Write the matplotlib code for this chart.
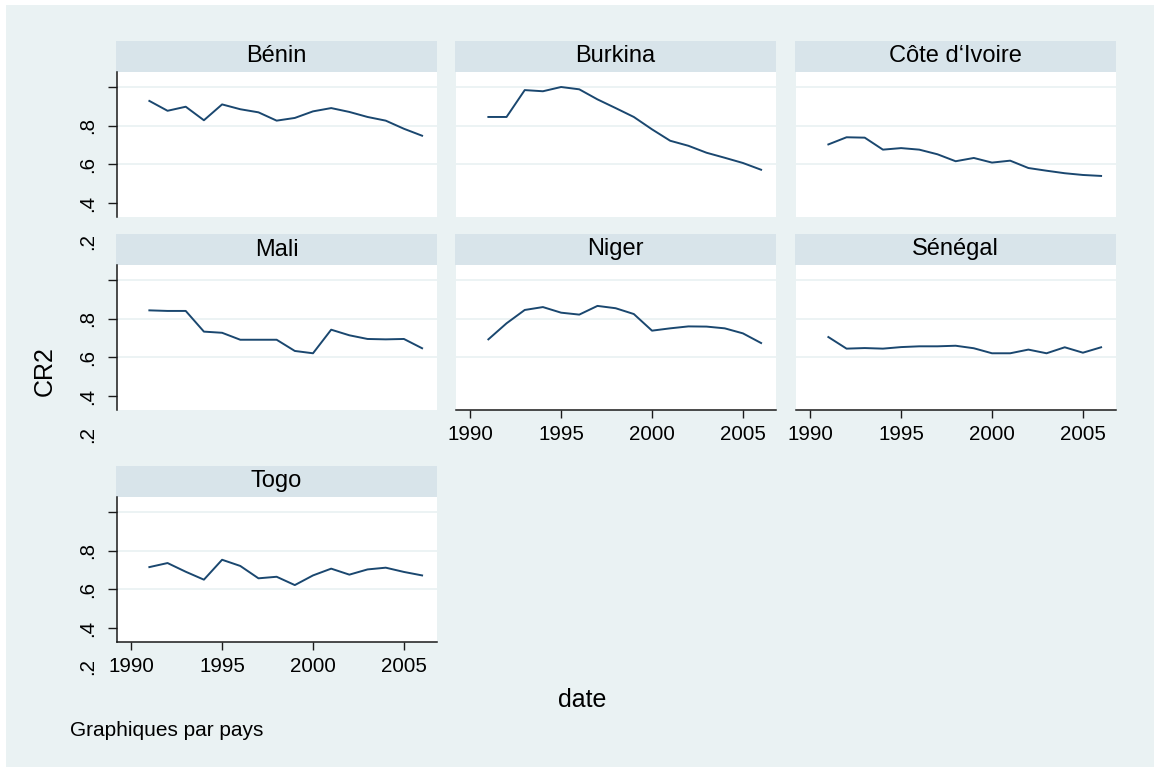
import matplotlib
matplotlib.use("Agg")
import matplotlib.pyplot as plt
from matplotlib.patches import Rectangle

plt.rcParams['font.family'] = ['Liberation Sans', 'DejaVu Sans']

# ---- data -------------------------------------------------------------
years = [1991, 1992, 1993, 1994, 1995, 1996, 1997, 1998,
         1999, 2000, 2001, 2002, 2003, 2004, 2005, 2006]

countries = ['Bénin', 'Burkina', 'Côte d‘Ivoire', 'Mali', 'Niger', 'Sénégal', 'Togo']

benin = [0.928, 0.877, 0.898, 0.828, 0.910, 0.885, 0.869, 0.826,
         0.840, 0.874, 0.891, 0.871, 0.845, 0.826, 0.784, 0.748]
burkina = [0.845, 0.845, 0.984, 0.978, 1.000, 0.988, 0.936, 0.891,
           0.845, 0.781, 0.722, 0.696, 0.660, 0.634, 0.607, 0.572]
cote_ivoire = [0.703, 0.740, 0.738, 0.676, 0.684, 0.676, 0.652, 0.616,
               0.633, 0.609, 0.619, 0.581, 0.567, 0.554, 0.545, 0.540]
mali = [0.843, 0.840, 0.840, 0.733, 0.727, 0.691, 0.691, 0.691,
        0.633, 0.621, 0.743, 0.714, 0.695, 0.693, 0.695, 0.647]
niger = [0.693, 0.776, 0.845, 0.860, 0.831, 0.821, 0.866, 0.854,
         0.824, 0.738, 0.750, 0.760, 0.759, 0.750, 0.724, 0.674]
senegal = [0.705, 0.645, 0.648, 0.645, 0.653, 0.657, 0.657, 0.660,
           0.647, 0.621, 0.621, 0.640, 0.621, 0.652, 0.624, 0.652]
togo = [0.715, 0.736, 0.691, 0.650, 0.753, 0.721, 0.657, 0.665,
        0.622, 0.672, 0.707, 0.676, 0.703, 0.712, 0.690, 0.672]

series = [benin, burkina, cote_ivoire, mali, niger, senegal, togo]

x_ticks = [1990, 1995, 2000, 2005]
x_ticklabels = ['1990', '1995', '2000', '2005']
y_label_values = [0.2, 0.4, 0.6, 0.8]
y_labels = ['.2', '.4', '.6', '.8']
y_ticks = [0.4, 0.6, 0.8, 1.0]
y_grid = [0.6, 0.8, 1.0]

# ---- style ------------------------------------------------------------
BG = '#EAF2F3'
STRIP = '#D8E4EA'
GRID = '#EAF2F3'
NAVY = '#1A476F'
AXIS = '#1a1a1a'

W, H = 1154, 767
fig = plt.figure(figsize=(W / 100, H / 100), dpi=100, facecolor='white')
fig.patches.append(Rectangle((6 / W, -0.01), 1.02 - 6 / W, 1.01 - 5 / H,
                             transform=fig.transFigure, facecolor=BG,
                             edgecolor='none', zorder=-10))


def px_axes(left, top, width, height):
    return fig.add_axes([left / W, 1 - (top + height) / H, width / W, height / H])


col_left = [117, 456, 796]
row_top = [72, 265, 497]
PW, PH, SH = 320, 145, 31
with_xaxis = {4, 5, 6}

for i, (name, vals) in enumerate(zip(countries, series)):
    r, c = divmod(i, 3)
    left, top = col_left[c], row_top[r]

    # title strip
    sax = px_axes(left - 1, top - SH, PW + 1, SH)
    sax.set_facecolor(STRIP)
    sax.set_xticks([])
    sax.set_yticks([])
    for s in sax.spines.values():
        s.set_visible(False)
    sax.text(0.5, 0.5, name, ha='center', va='center', fontsize=17,
             transform=sax.transAxes)

    ax = px_axes(left, top, PW, PH)
    ax.set_facecolor('white')
    for g in y_grid:
        ax.axhline(g, color=GRID, lw=1.3, zorder=0)
    ax.plot(years, vals, color=NAVY, lw=1.4, zorder=3)
    ax.set_xlim(1989.22, 2006.82)
    ax.set_ylim(0.3276, 1.0776)

    for s in ax.spines.values():
        s.set_visible(False)

    if i in with_xaxis:
        ax.spines['bottom'].set_visible(True)
        ax.spines['bottom'].set_linewidth(1.1)
        ax.spines['bottom'].set_color(AXIS)
        ax.set_xticks(x_ticks)
        ax.set_xticklabels(x_ticklabels)
        ax.tick_params(axis='x', length=6, width=1.0, color=AXIS,
                       pad=5, labelsize=14.8)
    else:
        ax.set_xticks([])

    if c == 0:
        ax.spines['left'].set_visible(True)
        ax.spines['left'].set_linewidth(1.1)
        ax.spines['left'].set_color(AXIS)
        ax.set_yticks(y_ticks)
        ax.set_yticklabels([])
        ax.tick_params(axis='y', length=6.5, width=1.0, color=AXIS)
        for v, lab in zip(y_label_values, y_labels):
            ax.annotate(lab, xy=(0, v), xycoords=('axes fraction', 'data'),
                        xytext=(-14.4, 0), textcoords='offset points',
                        ha='right', va='center', rotation=90,
                        fontsize=14.8, annotation_clip=False)
    else:
        ax.set_yticks([])

fig.text(45 / W, 1 - 371 / H, 'CR2', rotation=90, ha='center', va='center',
         fontsize=18)
fig.text(582 / W, 1 - 700 / H, 'date', ha='center', va='center', fontsize=18)
fig.text(70 / W, 1 - 730 / H, 'Graphiques par pays', ha='left', va='center',
         fontsize=15)

fig.savefig('out.png', dpi=100, facecolor='white')
